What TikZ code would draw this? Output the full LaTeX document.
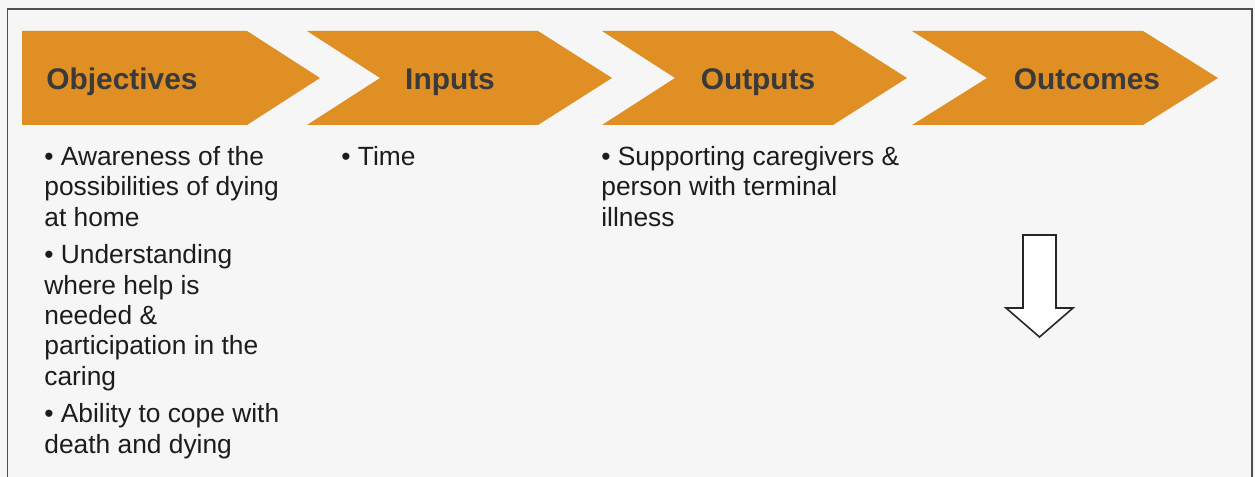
\documentclass[tikz,border=0pt]{standalone}
\usepackage{fontspec}
\setmainfont{Liberation Sans}
\usepackage{xcolor}
\definecolor{chevorange}{RGB}{223,143,35}
\definecolor{labelgray}{RGB}{58,58,58}
\definecolor{textgray}{RGB}{28,28,28}
\definecolor{paper}{RGB}{246,246,246}
\definecolor{framegray}{RGB}{80,80,80}
\usetikzlibrary{positioning}

\tikzset{
  chevron/.style={fill=chevorange},
  steplabel/.style={font=\fontsize{17}{20}\selectfont\bfseries, labelgray, anchor=base, inner sep=0pt},
  bullettext/.style={font=\fontsize{15}{17.3}\selectfont, textgray, align=left, anchor=north west, inner sep=0pt},
  blockarrow/.style={draw=black!85, line width=0.9pt, fill=white, line join=miter},
}

\begin{document}
\begin{tikzpicture}

% page and frame
\fill[paper] (0,0) rectangle (25.1,9.54);
\useasboundingbox (0,0) rectangle (25.1,9.54);
\draw[framegray, line width=0.8pt] (0.15,0) -- (0.15,9.36) -- (25.04,9.36) -- (25.04,0);

% === Chevron row ===
\fill[chevron] (0.44,8.92) -- (4.94,8.92) -- (6.40,7.98) -- (4.94,7.04) -- (0.44,7.04) -- cycle;
\fill[chevron] (6.14,8.92) -- (10.76,8.92) -- (12.24,7.98) -- (10.76,7.04) -- (6.14,7.04) -- (7.60,7.98) -- cycle;
\fill[chevron] (12.04,8.92) -- (16.66,8.92) -- (18.14,7.98) -- (16.66,7.04) -- (12.04,7.04) -- (13.50,7.98) -- cycle;
\fill[chevron] (18.24,8.92) -- (22.86,8.92) -- (24.36,7.98) -- (22.86,7.04) -- (18.24,7.04) -- (19.74,7.98) -- cycle;

\node[steplabel] (obj) at (2.44,7.74) {Objectives};
\node[steplabel] (inp) at (9.00,7.74) {Inputs};
\node[steplabel] (outp) at (15.16,7.74) {Outputs};
\node[steplabel] (outc) at (21.74,7.74) {Outcomes};

% === Bullet columns ===
\node[bullettext] (objtext) at (0.88,6.62)
  {• Awareness of the\\possibilities of dying\\at home\\[4pt]
   • Understanding\\where help is\\needed \&\\participation in the\\caring\\[4pt]
   • Ability to cope with\\death and dying};

\node[bullettext] (inptext) at (6.82,6.62) {• Time};

\node[bullettext] (outptext) at (12.02,6.62)
  {• Supporting caregivers \&\\person with terminal\\illness};

% down arrow
\draw[blockarrow] (20.46,4.84) -- (21.12,4.84) -- (21.12,3.38) -- (21.46,3.38)
  -- (20.79,2.80) -- (20.12,3.38) -- (20.46,3.38) -- cycle;

\end{tikzpicture}
\end{document}
